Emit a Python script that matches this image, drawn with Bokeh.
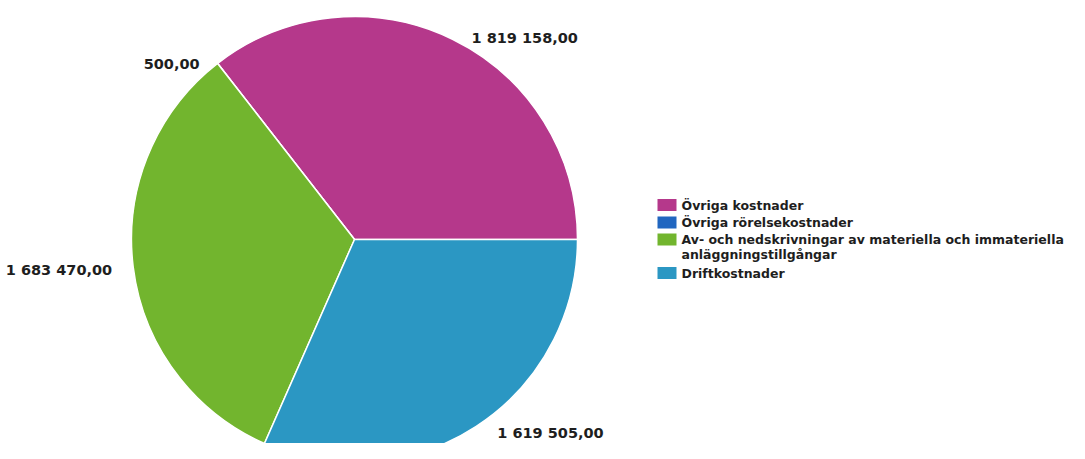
import math
from bokeh.plotting import figure
from bokeh.models import ColumnDataSource, Range1d
from bokeh.core.properties import value
from bokeh.embed import file_html
from bokeh.resources import INLINE

# ---- data ----
categories = ["Övriga kostnader", "Övriga rörelsekostnader",
              "Av- och nedskrivningar av materiella och immateriella\nanläggningstillgångar",
              "Driftkostnader"]
amounts = [1819158.00, 500.00, 1683470.00, 1619505.00]
value_labels = ["1 819 158,00", "500,00", "1 683 470,00", "1 619 505,00"]
colors = ["#B5388B", "#2166C0", "#72B52E", "#2B97C3"]

# ---- styles / layout ----
W, H = 1069, 443
cx, cy, R = 354, H - 239, 223
label_dx = [19, -18, -21, 21]
label_dy = [-1, 1, 3, 7]
FONT = value("DejaVu Sans")

p = figure(width=W, height=H, output_backend="svg", toolbar_location=None,
           x_range=Range1d(0, W), y_range=Range1d(0, H), min_border=0)
p.axis.visible = False
p.grid.visible = False
p.outline_line_color = None
p.background_fill_color = "white"
p.border_fill_color = "white"

total = sum(amounts)
starts, ends, mids = [], [], []
acc = 0.0
for a in amounts:
    s = acc / total * 2 * math.pi
    acc += a
    e = acc / total * 2 * math.pi
    starts.append(s); ends.append(e); mids.append((s + e) / 2)

wsrc = ColumnDataSource(dict(x=[cx]*4, y=[cy]*4, start=starts, end=ends, color=colors))
p.wedge(x="x", y="y", radius=R, start_angle="start", end_angle="end",
        fill_color="color", line_color="white", line_width=1.5, source=wsrc)

lx = [cx + R * math.cos(m) for m in mids]
ly = [cy + R * math.sin(m) for m in mids]
align = ["left" if math.cos(m) >= 0 else "right" for m in mids]
lsrc = ColumnDataSource(dict(x=lx, y=ly, t=value_labels, align=align,
                             dx=label_dx, dy=label_dy))
p.text(x="x", y="y", text="t", text_align="align", text_baseline="middle",
       x_offset="dx", y_offset="dy", text_font=FONT, text_font_style="bold",
       text_font_size="14.5px", text_color="#1e1e1e", source=lsrc)

# ---- legend (manual) ----
row_y = [H - 204.5, H - 222, H - 239, H - 272.5]
sw_x = 666.5
rsrc = ColumnDataSource(dict(x=[sw_x]*4, y=row_y, color=colors))
p.rect(x="x", y="y", width=19, height=12, fill_color="color", line_color=None, source=rsrc)

tx, ty, tt = [], [], []
for yy, lab in zip(row_y, categories):
    for i, line in enumerate(lab.split("\n")):
        tx.append(681); ty.append(yy - 15 * i); tt.append(line)
tsrc = ColumnDataSource(dict(x=tx, y=ty, t=tt))
p.text(x="x", y="y", text="t", text_align="left", text_baseline="middle",
       text_font=FONT, text_font_style="bold", text_font_size="12.5px",
       text_color="#1e1e1e", source=tsrc)

open("out.html", "w").write(file_html(p, INLINE))
